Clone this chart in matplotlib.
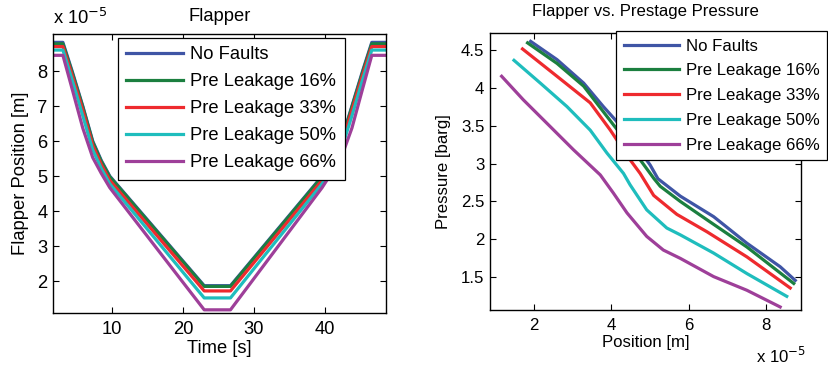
import numpy as np
import matplotlib
matplotlib.use("Agg")
import matplotlib.pyplot as plt

plt.rcParams['font.family'] = ['Liberation Sans', 'DejaVu Sans']

labels = ["No Faults", "Pre Leakage 16%", "Pre Leakage 33%", "Pre Leakage 50%", "Pre Leakage 66%"]
colors = ["#3f55a5", "#1b7f3f", "#ee2a2e", "#1fbdbd", "#9e3f99"]

# Flapper position over time (x 1e-5 m), breakpoints of the ramp profile
time_s = [1.7, 3.1, 4.4, 5.9, 7.3, 8.5, 9.7, 23.0, 26.7, 39.6, 40.9, 42.3, 43.8, 45.3, 46.6, 48.6]
pos_nofault = [8.82, 8.82, 8.00, 7.00, 6.00, 5.45, 5.00, 1.87, 1.87, 5.00, 5.45, 6.00, 7.00, 8.00, 8.82, 8.82]
pos_pre16 = [8.78, 8.78, 7.96, 6.97, 5.97, 5.42, 4.98, 1.85, 1.85, 4.98, 5.42, 5.97, 6.97, 7.96, 8.78, 8.78]
pos_pre33 = [8.70, 8.70, 7.88, 6.88, 5.88, 5.33, 4.88, 1.72, 1.72, 4.88, 5.33, 5.88, 6.88, 7.88, 8.70, 8.70]
pos_pre50 = [8.60, 8.60, 7.75, 6.72, 5.75, 5.22, 4.78, 1.52, 1.52, 4.78, 5.22, 5.75, 6.72, 7.75, 8.60, 8.60]
pos_pre66 = [8.45, 8.45, 7.49, 6.37, 5.53, 5.08, 4.67, 1.18, 1.18, 4.67, 5.08, 5.53, 6.37, 7.49, 8.45, 8.45]

# Prestage pressure vs flapper position (x 1e-5 m, barg)
fp_nofault = [1.91, 2.59, 3.28, 3.79, 4.09, 4.55, 5.00, 5.20, 5.78, 6.64, 7.50, 8.36, 8.75]
pr_nofault = [4.61, 4.37, 4.06, 3.75, 3.58, 3.30, 2.98, 2.80, 2.57, 2.30, 1.95, 1.64, 1.46]
fp_pre16 = [1.83, 2.59, 3.28, 4.05, 4.50, 4.74, 5.10, 5.26, 5.78, 6.55, 7.50, 8.71]
pr_pre16 = [4.59, 4.32, 4.02, 3.51, 3.22, 3.05, 2.80, 2.70, 2.50, 2.23, 1.90, 1.42]
fp_pre33 = [1.70, 2.59, 3.45, 3.97, 4.48, 4.74, 5.09, 5.69, 6.47, 7.50, 8.62]
pr_pre33 = [4.51, 4.15, 3.80, 3.44, 3.05, 2.87, 2.58, 2.33, 2.10, 1.77, 1.36]
fp_pre50 = [1.48, 2.16, 2.85, 3.45, 3.88, 4.31, 4.48, 4.91, 5.43, 5.78, 6.64, 7.50, 8.53]
pr_pre50 = [4.36, 4.06, 3.75, 3.44, 3.14, 2.87, 2.72, 2.39, 2.15, 2.06, 1.82, 1.55, 1.25]
fp_pre66 = [1.16, 1.72, 2.41, 3.02, 3.71, 4.05, 4.40, 4.91, 5.34, 5.78, 6.64, 7.50, 8.36]
pr_pre66 = [4.15, 3.84, 3.49, 3.18, 2.85, 2.61, 2.35, 2.04, 1.86, 1.75, 1.51, 1.33, 1.11]

pos_series = [pos_nofault, pos_pre16, pos_pre33, pos_pre50, pos_pre66]
fp_series = [fp_nofault, fp_pre16, fp_pre33, fp_pre50, fp_pre66]
pr_series = [pr_nofault, pr_pre16, pr_pre33, pr_pre50, pr_pre66]

fs_left = 13.2
fs_right = 12.1

fig = plt.figure(figsize=(8.29, 3.68), dpi=100)
ax1 = fig.add_axes([0.0639, 0.1495, 0.4017, 0.7582])
ax2 = fig.add_axes([0.5911, 0.1576, 0.3752, 0.7527])


def style_axes(ax, size):
    ax.tick_params(direction='in', top=True, right=True, length=4, width=0.8,
                   labelsize=size, pad=4)
    for sp in ax.spines.values():
        sp.set_linewidth(1.0)
    ax.xaxis.set_major_formatter(matplotlib.ticker.FormatStrFormatter('%g'))
    ax.yaxis.set_major_formatter(matplotlib.ticker.FormatStrFormatter('%g'))


# left: flapper position vs time
for ys, c, lab in zip(pos_series, colors, labels):
    ax1.plot(time_s, ys, color=c, lw=2.3, label=lab)
ax1.set_xlim(1.7, 48.6)
ax1.set_ylim(1.09, 9.06)
ax1.set_xticks([10, 20, 30, 40])
ax1.set_yticks([2, 3, 4, 5, 6, 7, 8])
style_axes(ax1, fs_left)
ax1.tick_params(axis='x', pad=6)
ax1.set_title("Flapper", fontsize=fs_left, pad=9)
ax1.set_xlabel("Time [s]", fontsize=fs_left, labelpad=1)
ax1.set_ylabel("Flapper Position [m]", fontsize=fs_left, labelpad=6)
ax1.text(0.0, 1.02, r"x 10$^{-5}$", transform=ax1.transAxes, fontsize=fs_left,
         ha='left', va='bottom')
leg1 = ax1.legend(loc='upper left', bbox_to_anchor=(0.195, 0.986), borderaxespad=0,
                  fontsize=fs_left, handlelength=3.1, handletextpad=0.4,
                  labelspacing=0.55, borderpad=0.45, fancybox=False,
                  edgecolor='black', framealpha=1)
leg1.get_frame().set_linewidth(0.9)

# right: prestage pressure vs flapper position
for xs, ys, c, lab in zip(fp_series, pr_series, colors, labels):
    ax2.plot(xs, ys, color=c, lw=2.3, label=lab)
ax2.set_xlim(0.86, 8.9)
ax2.set_ylim(1.07, 4.72)
ax2.set_xticks([2, 4, 6, 8])
ax2.set_yticks([1.5, 2, 2.5, 3, 3.5, 4, 4.5])
style_axes(ax2, fs_right)
ax2.tick_params(axis='x', pad=6)
ax2.set_title("Flapper vs. Prestage Pressure", fontsize=fs_right, pad=12)
ax2.set_xlabel("Position [m]", fontsize=fs_right, labelpad=1)
ax2.set_ylabel("Pressure [barg]", fontsize=fs_right, labelpad=7)
fig.text(0.912, 0.005, r"x 10$^{-5}$", fontsize=fs_right, ha='left', va='bottom')
leg2 = ax2.legend(loc='upper left', bbox_to_anchor=(0.405, 1.007), borderaxespad=0,
                  fontsize=fs_right, handlelength=3.3, handletextpad=0.4,
                  labelspacing=0.58, borderpad=0.45, fancybox=False,
                  edgecolor='black', framealpha=1)
leg2.get_frame().set_linewidth(0.9)

fig.savefig("out.png", dpi=100)
